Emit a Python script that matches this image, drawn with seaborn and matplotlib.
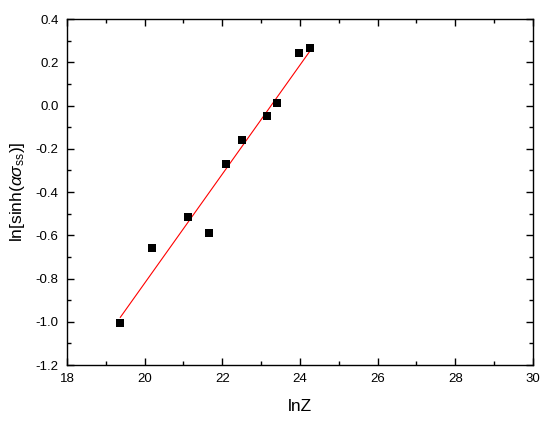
import numpy as np
import pandas as pd
import matplotlib
matplotlib.use("Agg")
import matplotlib.pyplot as plt
import seaborn as sns
from matplotlib.ticker import MultipleLocator

# data
ln_z = [19.37, 20.19, 21.12, 21.66, 22.09, 22.51, 23.14, 23.42, 23.97, 24.26]
ln_sinh = [-1.005, -0.659, -0.516, -0.590, -0.272, -0.160, -0.049, 0.010, 0.241, 0.265]

df = pd.DataFrame({"lnZ": ln_z, "lnsinh": ln_sinh})

sns.set_style("ticks")
plt.rcParams["font.family"] = ["Liberation Sans", "DejaVu Sans"]
plt.rcParams["mathtext.fontset"] = "custom"
plt.rcParams["mathtext.rm"] = "Liberation Sans"
plt.rcParams["mathtext.it"] = "Liberation Sans:italic"
plt.rcParams["text.color"] = "black"
plt.rcParams["axes.labelcolor"] = "black"
plt.rcParams["xtick.color"] = "black"
plt.rcParams["ytick.color"] = "black"

fig, ax = plt.subplots(figsize=(5.5, 4.22), dpi=100)
fig.subplots_adjust(left=67 / 550, right=533 / 550, top=1 - 19 / 422, bottom=1 - 365 / 422)

# linear fit
sns.regplot(data=df, x="lnZ", y="lnsinh", ci=None, scatter=False, ax=ax,
            line_kws={"color": "red", "lw": 0.8})
sns.scatterplot(data=df, x="lnZ", y="lnsinh", marker="s", color="black",
                s=40, edgecolor="black", linewidth=0, ax=ax, zorder=3)

ax.set_xlim(18, 30)
ax.set_ylim(-1.2, 0.4)
ax.xaxis.set_major_locator(MultipleLocator(2))
ax.xaxis.set_minor_locator(MultipleLocator(1))
ax.yaxis.set_major_locator(MultipleLocator(0.2))
ax.yaxis.set_minor_locator(MultipleLocator(0.1))
ax.yaxis.set_major_formatter(matplotlib.ticker.FormatStrFormatter("%.1f"))

for side in ["top", "right", "bottom", "left"]:
    ax.spines[side].set_visible(True)
    ax.spines[side].set_linewidth(1.0)
    ax.spines[side].set_color("black")

ax.tick_params(which="both", direction="in", top=True, right=True,
               labelsize=9.5, width=1.0, color="black", labelcolor="black")
ax.tick_params(which="major", length=5, pad=6)
ax.tick_params(which="minor", length=3)

ax.set_xlabel("lnZ", fontsize=12.5, labelpad=10, color="black")
ax.set_ylabel(r"ln[sinh($\alpha\sigma_{\rm ss}$)]", fontsize=12.5, labelpad=6, color="black")

fig.savefig("out.png", dpi=100, facecolor="white")
